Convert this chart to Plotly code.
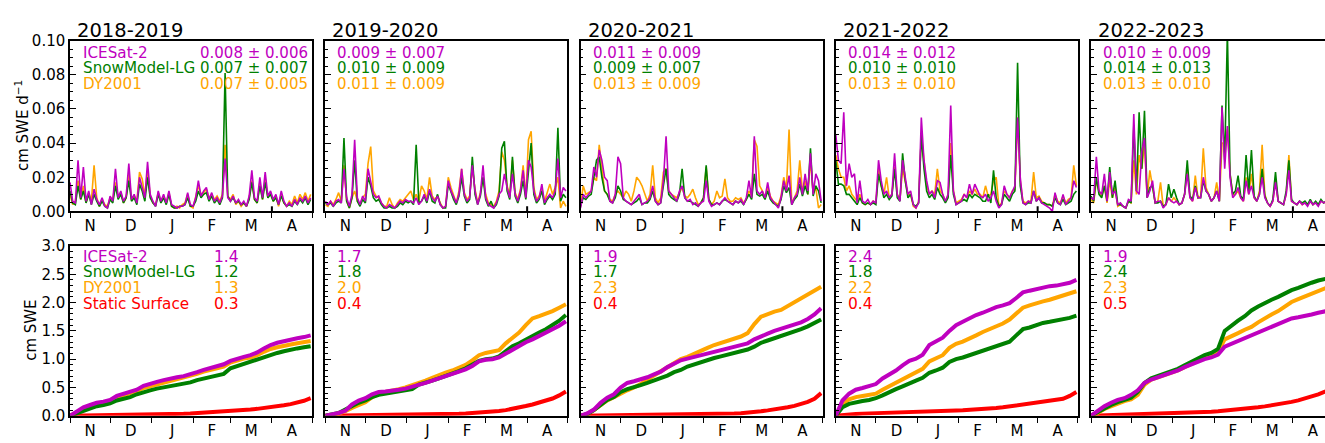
import numpy as np
import plotly.graph_objects as go

# ---------------------------------------------------------------------------
# Data: snow accumulation over sea ice, 1 Nov - 30 Apr of each season
# ---------------------------------------------------------------------------
SEASONS = ["2018-2019", "2019-2020", "2020-2021", "2021-2022", "2022-2023"]
MONTH_LABELS = ["N", "D", "J", "F", "M", "A"]
MONTH_STARTS = [0, 30, 61, 92, 120, 151, 181]      # days after 1 November
SEASON_DAYS = 181
APRIL_FIRST = 151

DAY_RATE = list(range(0, 181, 2))   # days after 1 Nov for the rate series
DAY_CUM = list(range(0, 181, 5))    # days after 1 Nov for the cumulative series

# Accumulation rate, cm SWE d-1
RATE_ICESAT2_2018 = [
    0.017, 0.006, 0.005, 0.030, 0.008, 0.026, 0.006, 0.012, 0.004, 0.013,
    0.007, 0.004, 0.008, 0.003, 0.002, 0.009, 0.006, 0.025, 0.008, 0.012,
    0.006, 0.009, 0.028, 0.007, 0.010, 0.005, 0.020, 0.014, 0.008, 0.029,
    0.010, 0.006, 0.003, 0.012, 0.006, 0.010, 0.005, 0.012, 0.004, 0.003,
    0.002, 0.003, 0.003, 0.004, 0.011, 0.004, 0.003, 0.008, 0.018, 0.009,
    0.012, 0.014, 0.007, 0.011, 0.006, 0.008, 0.005, 0.009, 0.031, 0.008,
    0.006, 0.009, 0.005, 0.007, 0.004, 0.006, 0.003, 0.009, 0.024, 0.008,
    0.006, 0.020, 0.008, 0.023, 0.009, 0.012, 0.007, 0.010, 0.004, 0.012,
    0.006, 0.003, 0.005, 0.003, 0.007, 0.004, 0.008, 0.006, 0.009, 0.005,
    0.008]
RATE_SNOWMODEL_2018 = [
    0.012, 0.005, 0.004, 0.015, 0.007, 0.012, 0.005, 0.010, 0.004, 0.010,
    0.006, 0.003, 0.006, 0.003, 0.002, 0.007, 0.005, 0.015, 0.007, 0.010,
    0.005, 0.008, 0.018, 0.006, 0.008, 0.004, 0.016, 0.012, 0.006, 0.020,
    0.008, 0.005, 0.003, 0.010, 0.005, 0.008, 0.004, 0.010, 0.003, 0.002,
    0.002, 0.003, 0.003, 0.004, 0.008, 0.003, 0.003, 0.006, 0.012, 0.008,
    0.010, 0.011, 0.006, 0.009, 0.005, 0.007, 0.004, 0.008, 0.081, 0.009,
    0.006, 0.008, 0.005, 0.006, 0.004, 0.005, 0.003, 0.007, 0.017, 0.007,
    0.005, 0.015, 0.007, 0.017, 0.008, 0.010, 0.006, 0.008, 0.004, 0.009,
    0.005, 0.003, 0.004, 0.003, 0.006, 0.004, 0.007, 0.005, 0.008, 0.004,
    0.007]
RATE_DY2001_2018 = [
    0.010, 0.004, 0.006, 0.018, 0.007, 0.015, 0.005, 0.011, 0.006, 0.027,
    0.008, 0.003, 0.007, 0.004, 0.003, 0.008, 0.007, 0.017, 0.009, 0.011,
    0.005, 0.008, 0.022, 0.007, 0.009, 0.006, 0.023, 0.019, 0.009, 0.024,
    0.009, 0.005, 0.004, 0.011, 0.006, 0.009, 0.005, 0.011, 0.003, 0.002,
    0.003, 0.002, 0.004, 0.005, 0.010, 0.003, 0.002, 0.009, 0.015, 0.010,
    0.011, 0.013, 0.008, 0.010, 0.007, 0.009, 0.006, 0.010, 0.039, 0.009,
    0.007, 0.010, 0.004, 0.006, 0.003, 0.005, 0.003, 0.008, 0.018, 0.007,
    0.005, 0.017, 0.007, 0.019, 0.008, 0.011, 0.006, 0.009, 0.003, 0.010,
    0.005, 0.003, 0.006, 0.004, 0.009, 0.005, 0.010, 0.007, 0.011, 0.006,
    0.010]

RATE_ICESAT2_2019 = [
    0.006, 0.004, 0.006, 0.003, 0.006, 0.007, 0.005, 0.025, 0.008, 0.003,
    0.010, 0.042, 0.008, 0.004, 0.009, 0.006, 0.025, 0.018, 0.010, 0.008,
    0.009, 0.005, 0.003, 0.002, 0.004, 0.003, 0.002, 0.004, 0.006, 0.005,
    0.007, 0.006, 0.006, 0.005, 0.008, 0.004, 0.006, 0.010, 0.006, 0.013,
    0.008, 0.006, 0.009, 0.004, 0.002, 0.003, 0.018, 0.012, 0.008, 0.005,
    0.010, 0.025, 0.010, 0.006, 0.008, 0.027, 0.012, 0.004, 0.010, 0.027,
    0.008, 0.004, 0.003, 0.002, 0.005, 0.010, 0.012, 0.022, 0.014, 0.008,
    0.022, 0.010, 0.006, 0.012, 0.024, 0.008, 0.030, 0.026, 0.012, 0.006,
    0.008, 0.016, 0.005, 0.008, 0.010, 0.008, 0.012, 0.031, 0.008, 0.014,
    0.012]
RATE_SNOWMODEL_2019 = [
    0.005, 0.004, 0.005, 0.003, 0.005, 0.006, 0.005, 0.043, 0.006, 0.002,
    0.008, 0.030, 0.006, 0.003, 0.007, 0.005, 0.020, 0.015, 0.008, 0.006,
    0.007, 0.004, 0.002, 0.002, 0.003, 0.002, 0.002, 0.003, 0.005, 0.004,
    0.006, 0.005, 0.006, 0.004, 0.039, 0.005, 0.006, 0.009, 0.005, 0.012,
    0.006, 0.005, 0.010, 0.004, 0.002, 0.002, 0.016, 0.011, 0.007, 0.004,
    0.009, 0.020, 0.009, 0.005, 0.007, 0.032, 0.010, 0.004, 0.009, 0.020,
    0.007, 0.003, 0.006, 0.002, 0.004, 0.009, 0.037, 0.041, 0.012, 0.007,
    0.032, 0.009, 0.005, 0.010, 0.018, 0.007, 0.025, 0.040, 0.010, 0.005,
    0.007, 0.012, 0.004, 0.007, 0.009, 0.007, 0.010, 0.049, 0.006, 0.010,
    0.008]
RATE_DY2001_2019 = [
    0.004, 0.003, 0.006, 0.004, 0.007, 0.011, 0.006, 0.027, 0.006, 0.002,
    0.008, 0.012, 0.006, 0.004, 0.008, 0.010, 0.028, 0.038, 0.012, 0.009,
    0.008, 0.005, 0.003, 0.003, 0.008, 0.004, 0.002, 0.005, 0.007, 0.006,
    0.008, 0.010, 0.012, 0.007, 0.010, 0.006, 0.015, 0.012, 0.007, 0.020,
    0.009, 0.007, 0.009, 0.005, 0.002, 0.003, 0.020, 0.014, 0.009, 0.005,
    0.012, 0.025, 0.011, 0.007, 0.009, 0.026, 0.013, 0.005, 0.011, 0.020,
    0.010, 0.005, 0.004, 0.003, 0.006, 0.012, 0.035, 0.030, 0.015, 0.009,
    0.030, 0.011, 0.007, 0.013, 0.027, 0.008, 0.042, 0.047, 0.014, 0.007,
    0.009, 0.013, 0.006, 0.011, 0.016, 0.010, 0.014, 0.020, 0.002, 0.006,
    0.003]

RATE_ICESAT2_2020 = [
    0.002, 0.010, 0.008, 0.010, 0.012, 0.026, 0.020, 0.036, 0.030, 0.020,
    0.018, 0.006, 0.005, 0.010, 0.032, 0.028, 0.008, 0.006, 0.005, 0.004,
    0.006, 0.008, 0.010, 0.004, 0.005, 0.006, 0.008, 0.015, 0.006, 0.004,
    0.005, 0.018, 0.044, 0.012, 0.010, 0.008, 0.006, 0.012, 0.015, 0.008,
    0.006, 0.007, 0.004, 0.005, 0.003, 0.005, 0.006, 0.018, 0.006, 0.003,
    0.004, 0.005, 0.004, 0.006, 0.008, 0.006, 0.005, 0.004, 0.006, 0.005,
    0.007, 0.004, 0.008, 0.018, 0.008, 0.044, 0.012, 0.010, 0.012, 0.008,
    0.017, 0.008, 0.006, 0.004, 0.002, 0.008, 0.018, 0.012, 0.021, 0.004,
    0.008, 0.010, 0.020, 0.010, 0.022, 0.012, 0.034, 0.010, 0.022, 0.018,
    0.006]
RATE_SNOWMODEL_2020 = [
    0.003, 0.008, 0.007, 0.009, 0.010, 0.020, 0.030, 0.032, 0.020, 0.012,
    0.010, 0.006, 0.005, 0.008, 0.015, 0.012, 0.007, 0.006, 0.005, 0.004,
    0.005, 0.006, 0.008, 0.004, 0.005, 0.005, 0.007, 0.012, 0.006, 0.004,
    0.005, 0.015, 0.025, 0.010, 0.008, 0.007, 0.006, 0.010, 0.025, 0.008,
    0.006, 0.006, 0.005, 0.004, 0.003, 0.005, 0.008, 0.027, 0.007, 0.004,
    0.004, 0.005, 0.004, 0.006, 0.007, 0.006, 0.005, 0.004, 0.006, 0.005,
    0.006, 0.004, 0.007, 0.010, 0.007, 0.022, 0.010, 0.009, 0.010, 0.007,
    0.012, 0.007, 0.005, 0.004, 0.003, 0.007, 0.015, 0.011, 0.014, 0.004,
    0.007, 0.009, 0.016, 0.009, 0.015, 0.010, 0.037, 0.009, 0.015, 0.012,
    0.005]
RATE_DY2001_2020 = [
    0.003, 0.015, 0.010, 0.011, 0.012, 0.020, 0.018, 0.039, 0.025, 0.012,
    0.010, 0.007, 0.006, 0.010, 0.012, 0.010, 0.008, 0.012, 0.010, 0.006,
    0.012, 0.020, 0.018, 0.015, 0.010, 0.006, 0.010, 0.027, 0.008, 0.005,
    0.008, 0.023, 0.025, 0.012, 0.010, 0.009, 0.008, 0.011, 0.014, 0.009,
    0.008, 0.010, 0.013, 0.008, 0.004, 0.005, 0.008, 0.026, 0.007, 0.004,
    0.006, 0.012, 0.008, 0.009, 0.019, 0.008, 0.006, 0.006, 0.008, 0.007,
    0.008, 0.005, 0.007, 0.012, 0.009, 0.042, 0.038, 0.015, 0.012, 0.008,
    0.014, 0.009, 0.006, 0.005, 0.004, 0.009, 0.020, 0.013, 0.048, 0.005,
    0.008, 0.012, 0.030, 0.012, 0.018, 0.010, 0.030, 0.011, 0.014, 0.002,
    0.004]

RATE_ICESAT2_2021 = [
    0.045, 0.030, 0.028, 0.058, 0.015, 0.028, 0.020, 0.022, 0.005, 0.018,
    0.006, 0.005, 0.007, 0.004, 0.006, 0.005, 0.030, 0.018, 0.010, 0.012,
    0.008, 0.010, 0.034, 0.010, 0.006, 0.030, 0.020, 0.010, 0.012, 0.004,
    0.002, 0.005, 0.055, 0.030, 0.018, 0.010, 0.012, 0.008, 0.018, 0.017,
    0.010, 0.006, 0.010, 0.062, 0.012, 0.004, 0.005, 0.006, 0.010, 0.008,
    0.016, 0.010, 0.016, 0.012, 0.009, 0.008, 0.010, 0.006, 0.008, 0.012,
    0.006, 0.002, 0.004, 0.015, 0.010, 0.008, 0.012, 0.015, 0.055, 0.020,
    0.005, 0.004, 0.006, 0.005, 0.012, 0.006, 0.008, 0.005, 0.004, 0.003,
    0.002, 0.000, 0.011, 0.005, 0.004, 0.010, 0.004, 0.006, 0.008, 0.018,
    0.014]
RATE_SNOWMODEL_2021 = [
    0.030, 0.016, 0.016, 0.015, 0.010, 0.010, 0.008, 0.006, 0.004, 0.008,
    0.005, 0.004, 0.005, 0.004, 0.005, 0.004, 0.022, 0.015, 0.008, 0.010,
    0.007, 0.009, 0.025, 0.008, 0.006, 0.034, 0.018, 0.008, 0.010, 0.004,
    0.003, 0.005, 0.045, 0.025, 0.012, 0.008, 0.010, 0.007, 0.014, 0.010,
    0.008, 0.005, 0.008, 0.033, 0.010, 0.004, 0.005, 0.006, 0.007, 0.006,
    0.010, 0.008, 0.010, 0.009, 0.008, 0.006, 0.006, 0.010, 0.005, 0.024,
    0.008, 0.003, 0.004, 0.010, 0.008, 0.006, 0.010, 0.012, 0.087, 0.015,
    0.005, 0.004, 0.005, 0.005, 0.012, 0.006, 0.008, 0.005, 0.005, 0.004,
    0.004, 0.003, 0.008, 0.005, 0.004, 0.007, 0.004, 0.005, 0.006, 0.010,
    0.012]
RATE_DY2001_2021 = [
    0.033, 0.025, 0.020, 0.020, 0.012, 0.015, 0.010, 0.008, 0.006, 0.010,
    0.005, 0.004, 0.005, 0.004, 0.006, 0.005, 0.025, 0.015, 0.010, 0.020,
    0.008, 0.010, 0.026, 0.010, 0.007, 0.025, 0.018, 0.010, 0.010, 0.003,
    0.002, 0.006, 0.045, 0.028, 0.015, 0.010, 0.012, 0.010, 0.025, 0.012,
    0.010, 0.006, 0.009, 0.040, 0.012, 0.005, 0.006, 0.007, 0.010, 0.008,
    0.012, 0.010, 0.013, 0.010, 0.010, 0.008, 0.015, 0.009, 0.010, 0.018,
    0.020, 0.003, 0.005, 0.012, 0.010, 0.008, 0.012, 0.013, 0.055, 0.018,
    0.006, 0.005, 0.006, 0.006, 0.023, 0.008, 0.009, 0.006, 0.005, 0.004,
    0.004, 0.003, 0.010, 0.006, 0.005, 0.009, 0.005, 0.007, 0.008, 0.027,
    0.015]

RATE_ICESAT2_2022 = [
    0.008, 0.007, 0.032, 0.012, 0.010, 0.022, 0.006, 0.023, 0.010, 0.012,
    0.004, 0.005, 0.003, 0.002, 0.007, 0.006, 0.057, 0.012, 0.010, 0.035,
    0.043, 0.008, 0.012, 0.018, 0.005, 0.006, 0.006, 0.002, 0.004, 0.008,
    0.006, 0.005, 0.006, 0.004, 0.005, 0.010, 0.022, 0.008, 0.006, 0.014,
    0.008, 0.008, 0.020, 0.012, 0.010, 0.006, 0.008, 0.012, 0.006, 0.061,
    0.025, 0.050, 0.020, 0.008, 0.010, 0.014, 0.008, 0.006, 0.018, 0.010,
    0.015, 0.008, 0.006, 0.010, 0.020, 0.008, 0.005, 0.003, 0.006, 0.017,
    0.006, 0.005, 0.004, 0.010, 0.024, 0.006, 0.005, 0.004, 0.006, 0.004,
    0.005, 0.003, 0.006, 0.004, 0.005, 0.003, 0.006, 0.005, 0.006, 0.005,
    0.006]
RATE_SNOWMODEL_2022 = [
    0.009, 0.006, 0.020, 0.010, 0.008, 0.015, 0.006, 0.026, 0.008, 0.018,
    0.004, 0.004, 0.003, 0.002, 0.006, 0.005, 0.050, 0.012, 0.058, 0.025,
    0.059, 0.008, 0.014, 0.015, 0.005, 0.005, 0.006, 0.003, 0.004, 0.016,
    0.008, 0.013, 0.008, 0.004, 0.005, 0.010, 0.030, 0.009, 0.007, 0.015,
    0.008, 0.008, 0.018, 0.012, 0.010, 0.006, 0.008, 0.012, 0.006, 0.062,
    0.030, 0.105, 0.022, 0.010, 0.012, 0.021, 0.009, 0.007, 0.033, 0.012,
    0.036, 0.009, 0.006, 0.010, 0.025, 0.009, 0.005, 0.003, 0.007, 0.023,
    0.006, 0.005, 0.004, 0.012, 0.030, 0.007, 0.005, 0.004, 0.006, 0.005,
    0.006, 0.004, 0.007, 0.004, 0.006, 0.004, 0.007, 0.005, 0.006, 0.005,
    0.006]
RATE_DY2001_2022 = [
    0.007, 0.005, 0.018, 0.012, 0.009, 0.015, 0.005, 0.018, 0.008, 0.014,
    0.003, 0.004, 0.003, 0.002, 0.006, 0.005, 0.030, 0.010, 0.033, 0.025,
    0.040, 0.008, 0.024, 0.015, 0.005, 0.006, 0.017, 0.003, 0.004, 0.008,
    0.006, 0.008, 0.006, 0.004, 0.005, 0.010, 0.025, 0.008, 0.006, 0.021,
    0.008, 0.009, 0.037, 0.014, 0.010, 0.006, 0.008, 0.017, 0.006, 0.040,
    0.040, 0.048, 0.022, 0.010, 0.010, 0.012, 0.008, 0.006, 0.020, 0.010,
    0.022, 0.008, 0.006, 0.012, 0.039, 0.010, 0.005, 0.003, 0.006, 0.018,
    0.006, 0.005, 0.004, 0.010, 0.033, 0.006, 0.005, 0.004, 0.006, 0.004,
    0.005, 0.004, 0.006, 0.004, 0.005, 0.004, 0.006, 0.005, 0.006, 0.004,
    0.005]

# Rate statistics (mean ± standard deviation), cm SWE d-1
ICESAT2_RATE_TEXT = ["0.008 ± 0.006", "0.009 ± 0.007", "0.011 ± 0.009",
                     "0.014 ± 0.012", "0.010 ± 0.009"]
SNOWMODEL_RATE_TEXT = ["0.007 ± 0.007", "0.010 ± 0.009", "0.009 ± 0.007",
                       "0.010 ± 0.010", "0.014 ± 0.013"]
DY2001_RATE_TEXT = ["0.007 ± 0.005", "0.011 ± 0.009", "0.013 ± 0.009",
                    "0.013 ± 0.010", "0.013 ± 0.010"]

# Cumulative accumulation, cm SWE
CUM_ICESAT2_2018 = [0.00, 0.08, 0.15, 0.19, 0.23, 0.25, 0.28, 0.35, 0.39, 0.43, 0.46, 0.53, 0.57,
                    0.60, 0.63, 0.66, 0.68, 0.70, 0.73, 0.77, 0.81, 0.84, 0.87, 0.91, 0.97, 1.01,
                    1.04, 1.07, 1.12, 1.19, 1.25, 1.29, 1.32, 1.35, 1.37, 1.39, 1.42]
CUM_SNOWMODEL_2018 = [0.00, 0.04, 0.09, 0.13, 0.17, 0.19, 0.22, 0.27, 0.30, 0.33, 0.38, 0.42, 0.45,
                      0.48, 0.50, 0.53, 0.55, 0.57, 0.59, 0.63, 0.66, 0.69, 0.71, 0.74, 0.84, 0.88,
                      0.92, 0.95, 0.99, 1.04, 1.08, 1.11, 1.14, 1.17, 1.19, 1.21, 1.23]
CUM_DY2001_2018 = [0.00, 0.06, 0.12, 0.16, 0.20, 0.23, 0.26, 0.32, 0.36, 0.40, 0.43, 0.49, 0.52,
                   0.56, 0.59, 0.62, 0.65, 0.67, 0.70, 0.74, 0.78, 0.81, 0.84, 0.87, 0.94, 0.98,
                   1.01, 1.03, 1.07, 1.13, 1.18, 1.21, 1.24, 1.26, 1.28, 1.30, 1.32]
CUM_STATIC_2018 = [0.000, 0.001, 0.002, 0.003, 0.004, 0.005, 0.006, 0.008, 0.010, 0.011, 0.013,
                   0.015, 0.017, 0.019, 0.022, 0.025, 0.030, 0.034, 0.039, 0.045, 0.052, 0.060,
                   0.068, 0.076, 0.085, 0.094, 0.102, 0.110, 0.122, 0.135, 0.150, 0.168, 0.185,
                   0.205, 0.230, 0.265, 0.310]

CUM_ICESAT2_2019 = [0.00, 0.02, 0.05, 0.09, 0.20, 0.27, 0.31, 0.38, 0.42, 0.43, 0.44, 0.46, 0.48,
                    0.51, 0.54, 0.58, 0.62, 0.66, 0.70, 0.74, 0.78, 0.82, 0.88, 0.96, 0.99, 1.00,
                    1.03, 1.10, 1.18, 1.23, 1.30, 1.35, 1.41, 1.46, 1.52, 1.59, 1.67]
CUM_SNOWMODEL_2019 = [0.00, 0.02, 0.05, 0.11, 0.18, 0.23, 0.27, 0.33, 0.37, 0.39, 0.41, 0.44, 0.45,
                      0.47, 0.55, 0.58, 0.62, 0.66, 0.70, 0.75, 0.79, 0.84, 0.90, 0.97, 1.00, 1.01,
                      1.05, 1.15, 1.23, 1.28, 1.35, 1.40, 1.47, 1.53, 1.60, 1.68, 1.78]
CUM_DY2001_2019 = [0.00, 0.01, 0.04, 0.08, 0.14, 0.20, 0.24, 0.33, 0.39, 0.42, 0.44, 0.47, 0.50,
                   0.54, 0.57, 0.62, 0.67, 0.72, 0.76, 0.80, 0.85, 0.90, 0.98, 1.07, 1.11, 1.13,
                   1.16, 1.28, 1.38, 1.47, 1.60, 1.72, 1.76, 1.80, 1.85, 1.91, 1.97]
CUM_STATIC_2019 = [0.000, 0.001, 0.002, 0.003, 0.004, 0.005, 0.006, 0.007, 0.008, 0.009, 0.010,
                   0.011, 0.012, 0.013, 0.015, 0.017, 0.019, 0.022, 0.026, 0.030, 0.035, 0.041,
                   0.047, 0.054, 0.062, 0.072, 0.085, 0.100, 0.120, 0.145, 0.172, 0.200, 0.230,
                   0.265, 0.305, 0.360, 0.430]

CUM_ICESAT2_2020 = [0.00, 0.04, 0.11, 0.23, 0.32, 0.38, 0.50, 0.58, 0.61, 0.64, 0.68, 0.73, 0.78,
                    0.86, 0.92, 0.98, 1.01, 1.04, 1.07, 1.10, 1.14, 1.17, 1.19, 1.22, 1.25, 1.28,
                    1.35, 1.41, 1.45, 1.50, 1.54, 1.57, 1.61, 1.65, 1.71, 1.79, 1.90]
CUM_SNOWMODEL_2020 = [0.00, 0.03, 0.10, 0.20, 0.28, 0.33, 0.42, 0.47, 0.50, 0.54, 0.58, 0.62, 0.66,
                      0.71, 0.77, 0.81, 0.87, 0.91, 0.95, 0.99, 1.02, 1.05, 1.08, 1.11, 1.14, 1.17,
                      1.22, 1.29, 1.33, 1.37, 1.41, 1.44, 1.48, 1.53, 1.58, 1.64, 1.70]
CUM_DY2001_2020 = [0.00, 0.03, 0.10, 0.19, 0.27, 0.33, 0.40, 0.45, 0.50, 0.56, 0.64, 0.71, 0.77,
                   0.85, 0.92, 1.00, 1.04, 1.10, 1.15, 1.20, 1.25, 1.29, 1.32, 1.36, 1.40, 1.46,
                   1.62, 1.75, 1.80, 1.84, 1.87, 1.94, 2.00, 2.07, 2.13, 2.20, 2.28]
CUM_STATIC_2020 = [0.000, 0.001, 0.002, 0.003, 0.004, 0.005, 0.006, 0.007, 0.008, 0.009, 0.010,
                   0.012, 0.014, 0.016, 0.018, 0.020, 0.022, 0.024, 0.026, 0.028, 0.030, 0.033,
                   0.036, 0.040, 0.045, 0.052, 0.065, 0.080, 0.095, 0.110, 0.130, 0.150, 0.175,
                   0.205, 0.245, 0.300, 0.400]

CUM_ICESAT2_2021 = [0.00, 0.27, 0.39, 0.46, 0.49, 0.52, 0.56, 0.66, 0.72, 0.80, 0.89, 0.97, 1.01,
                    1.08, 1.25, 1.31, 1.38, 1.50, 1.60, 1.66, 1.72, 1.78, 1.82, 1.87, 1.92, 1.95,
                    1.99, 2.08, 2.18, 2.21, 2.24, 2.27, 2.29, 2.30, 2.32, 2.35, 2.40]
CUM_SNOWMODEL_2021 = [0.00, 0.15, 0.21, 0.24, 0.26, 0.28, 0.31, 0.36, 0.42, 0.47, 0.52, 0.58, 0.62,
                      0.67, 0.76, 0.80, 0.85, 0.95, 1.00, 1.03, 1.07, 1.11, 1.15, 1.20, 1.24, 1.27,
                      1.31, 1.42, 1.53, 1.56, 1.60, 1.64, 1.66, 1.68, 1.70, 1.73, 1.77]
CUM_DY2001_2021 = [0.00, 0.21, 0.29, 0.33, 0.35, 0.37, 0.39, 0.46, 0.52, 0.59, 0.66, 0.72, 0.77,
                   0.83, 0.96, 1.01, 1.07, 1.20, 1.27, 1.31, 1.36, 1.42, 1.48, 1.53, 1.58, 1.63,
                   1.70, 1.80, 1.91, 1.95, 1.99, 2.02, 2.05, 2.09, 2.12, 2.16, 2.20]
CUM_STATIC_2021 = [0.000, 0.015, 0.025, 0.032, 0.038, 0.043, 0.048, 0.052, 0.056, 0.060, 0.064,
                   0.068, 0.072, 0.076, 0.080, 0.083, 0.086, 0.089, 0.093, 0.097, 0.102, 0.108,
                   0.115, 0.125, 0.137, 0.150, 0.165, 0.180, 0.195, 0.212, 0.230, 0.245, 0.258,
                   0.272, 0.300, 0.350, 0.420]

CUM_ICESAT2_2022 = [0.00, 0.09, 0.17, 0.23, 0.28, 0.31, 0.37, 0.45, 0.58, 0.64, 0.68, 0.72, 0.76,
                    0.80, 0.86, 0.91, 0.96, 1.00, 1.03, 1.08, 1.22, 1.27, 1.32, 1.38, 1.43, 1.47,
                    1.52, 1.57, 1.62, 1.67, 1.72, 1.74, 1.76, 1.79, 1.82, 1.84, 1.87]
CUM_SNOWMODEL_2022 = [0.00, 0.07, 0.14, 0.19, 0.24, 0.28, 0.32, 0.42, 0.58, 0.66, 0.70, 0.74, 0.78,
                      0.83, 0.89, 0.95, 1.02, 1.07, 1.11, 1.18, 1.50, 1.60, 1.68, 1.76, 1.86, 1.93,
                      2.00, 2.05, 2.10, 2.16, 2.22, 2.26, 2.31, 2.35, 2.39, 2.42, 2.44]
CUM_DY2001_2022 = [0.00, 0.05, 0.12, 0.17, 0.22, 0.26, 0.29, 0.37, 0.55, 0.64, 0.68, 0.72, 0.76,
                   0.80, 0.86, 0.92, 0.98, 1.03, 1.07, 1.13, 1.35, 1.40, 1.46, 1.52, 1.57, 1.65,
                   1.73, 1.79, 1.85, 1.93, 2.01, 2.06, 2.11, 2.16, 2.21, 2.26, 2.30]
CUM_STATIC_2022 = [0.000, 0.003, 0.006, 0.010, 0.014, 0.018, 0.021, 0.024, 0.027, 0.030, 0.033,
                   0.036, 0.040, 0.044, 0.048, 0.053, 0.058, 0.064, 0.071, 0.079, 0.088, 0.098,
                   0.110, 0.122, 0.136, 0.150, 0.166, 0.183, 0.202, 0.222, 0.245, 0.272, 0.302,
                   0.337, 0.378, 0.425, 0.475]

RATE_ICESAT2 = [RATE_ICESAT2_2018, RATE_ICESAT2_2019, RATE_ICESAT2_2020, RATE_ICESAT2_2021, RATE_ICESAT2_2022]
RATE_SNOWMODEL = [RATE_SNOWMODEL_2018, RATE_SNOWMODEL_2019, RATE_SNOWMODEL_2020, RATE_SNOWMODEL_2021, RATE_SNOWMODEL_2022]
RATE_DY2001 = [RATE_DY2001_2018, RATE_DY2001_2019, RATE_DY2001_2020, RATE_DY2001_2021, RATE_DY2001_2022]
CUM_ICESAT2 = [CUM_ICESAT2_2018, CUM_ICESAT2_2019, CUM_ICESAT2_2020, CUM_ICESAT2_2021, CUM_ICESAT2_2022]
CUM_SNOWMODEL = [CUM_SNOWMODEL_2018, CUM_SNOWMODEL_2019, CUM_SNOWMODEL_2020, CUM_SNOWMODEL_2021, CUM_SNOWMODEL_2022]
CUM_DY2001 = [CUM_DY2001_2018, CUM_DY2001_2019, CUM_DY2001_2020, CUM_DY2001_2021, CUM_DY2001_2022]
CUM_STATIC = [CUM_STATIC_2018, CUM_STATIC_2019, CUM_STATIC_2020, CUM_STATIC_2021, CUM_STATIC_2022]

# ---------------------------------------------------------------------------
# Styling
# ---------------------------------------------------------------------------
C_ICESAT2 = "#bf00bf"
C_SNOWMODEL = "#008000"
C_DY2001 = "#ffa500"
C_STATIC = "#ff0000"
FONT = "DejaVu Sans"

W, H = 1325, 443
PANEL_W = 242.0
PANEL_LEFT = [70 + 255.25 * i for i in range(5)]
ROW_BOX = [(33, 211), (247, 424)]          # top / bottom pixel rows of each panel row

month_mid = [(a + b) / 2 for a, b in zip(MONTH_STARTS[:-1], MONTH_STARTS[1:])]


def fx(px):
    return px / W


def fy(py):
    return 1 - py / H


fig = go.Figure()
annotations = []
shapes = []
layout_axes = {}

for row in range(2):
    top, bottom = ROW_BOX[row]
    for col in range(5):
        n = row * 5 + col + 1
        xname = "x" if n == 1 else f"x{n}"
        yname = "y" if n == 1 else f"y{n}"
        left = PANEL_LEFT[col]
        right = min(left + PANEL_W, W)
        x_end = SEASON_DAYS * (right - left) / PANEL_W

        if row == 0:
            series = [(RATE_DY2001[col], C_DY2001),
                      (RATE_SNOWMODEL[col], C_SNOWMODEL),
                      (RATE_ICESAT2[col], C_ICESAT2)]
            for vals, color in series:
                fig.add_trace(go.Scatter(
                    x=DAY_RATE, y=vals, mode="lines",
                    line=dict(color=color, width=1.6),
                    xaxis=xname, yaxis=yname, showlegend=False, hoverinfo="skip"))
            # short inward tick marking 1 April on the rate panels
            shapes.append(dict(
                type="line", xref=xname, yref=f"{yname} domain",
                x0=APRIL_FIRST, x1=APRIL_FIRST, y0=0, y1=0.03,
                line=dict(color="black", width=2)))
        else:
            series = [(CUM_STATIC[col], C_STATIC),
                      (CUM_DY2001[col], C_DY2001),
                      (CUM_SNOWMODEL[col], C_SNOWMODEL),
                      (CUM_ICESAT2[col], C_ICESAT2)]
            for vals, color in series:
                fig.add_trace(go.Scatter(
                    x=DAY_CUM, y=vals, mode="lines",
                    line=dict(color=color, width=4),
                    xaxis=xname, yaxis=yname, showlegend=False, hoverinfo="skip"))

        layout_axes["xaxis" if n == 1 else f"xaxis{n}"] = dict(
            domain=[fx(left), fx(right)],
            range=[0, x_end],
            anchor=yname,
            showline=True, mirror=True, linecolor="black", linewidth=1.5,
            showgrid=False, zeroline=False,
            tickmode="array", tickvals=month_mid, ticktext=MONTH_LABELS,
            ticks="", tickfont=dict(family=FONT, size=15, color="black"),
            minor=dict(tickmode="array", tickvals=MONTH_STARTS, ticks="outside",
                       ticklen=5, tickwidth=1.2, tickcolor="black", showgrid=False),
        )
        if row == 0:
            yr = [0, 0.10]
            ytick = dict(tickmode="array", tickvals=[0, 0.02, 0.04, 0.06, 0.08, 0.10],
                         tickformat=".2f")
            yminor = 0.005
        else:
            yr = [0, 3.0]
            ytick = dict(tickmode="array", tickvals=[0, 0.5, 1.0, 1.5, 2.0, 2.5, 3.0],
                         tickformat=".1f")
            yminor = 0.1
        layout_axes["yaxis" if n == 1 else f"yaxis{n}"] = dict(
            domain=[fy(bottom), fy(top)],
            range=yr,
            anchor=xname,
            showline=True, mirror=(col < 4), linecolor="black", linewidth=1.5,
            showgrid=False, zeroline=False,
            ticks="inside", ticklen=6, tickwidth=1.2, tickcolor="black",
            showticklabels=(col == 0),
            tickfont=dict(family=FONT, size=15, color="black"),
            minor=dict(dtick=yminor, tick0=0, ticks="inside", ticklen=3,
                       tickwidth=1, tickcolor="black", showgrid=False),
            **ytick,
        )

        # Season title above the top row
        if row == 0:
            annotations.append(dict(
                text=SEASONS[col], xref="paper", yref="paper",
                x=fx(left + 5), y=fy(22), xanchor="left", yanchor="middle",
                showarrow=False, font=dict(family=FONT, size=19.5, color="black")))

        # In-panel statistics
        if row == 0:
            ys = [46, 62, 78]
            items = [("ICESat-2", ICESAT2_RATE_TEXT[col], C_ICESAT2),
                     ("SnowModel-LG", SNOWMODEL_RATE_TEXT[col], C_SNOWMODEL),
                     ("DY2001", DY2001_RATE_TEXT[col], C_DY2001)]
        else:
            ys = [258, 274.5, 291, 307]
            items = [("ICESat-2", f"{CUM_ICESAT2[col][-1]:.1f}", C_ICESAT2),
                     ("SnowModel-LG", f"{CUM_SNOWMODEL[col][-1]:.1f}", C_SNOWMODEL),
                     ("DY2001", f"{CUM_DY2001[col][-1]:.1f}", C_DY2001),
                     ("Static Surface", f"{CUM_STATIC[col][-1]:.1f}", C_STATIC)]
        for yy, (name, value, color) in zip(ys, items):
            name_font = dict(family=FONT, size=15.2, color=color)
            value_font = dict(family=FONT, size=15 if row == 0 else 15.5, color=color)
            if col == 0:
                annotations.append(dict(
                    text=name, xref="paper", yref="paper", x=fx(left + 11), y=fy(yy),
                    xanchor="left", yanchor="middle", showarrow=False, font=name_font))
                if row == 0:
                    annotations.append(dict(
                        text=value, xref="paper", yref="paper", x=fx(right - 2.5), y=fy(yy),
                        xanchor="right", yanchor="middle", showarrow=False, font=value_font))
                else:
                    annotations.append(dict(
                        text=value, xref="paper", yref="paper", x=fx(left + 142), y=fy(yy),
                        xanchor="left", yanchor="middle", showarrow=False, font=value_font))
            else:
                annotations.append(dict(
                    text=value, xref="paper", yref="paper", x=fx(left + 10), y=fy(yy),
                    xanchor="left", yanchor="middle", showarrow=False, font=value_font))

# y-axis titles
annotations.append(dict(
    text="cm SWE d<sup>−1</sup>", xref="paper", yref="paper",
    x=fx(22), y=fy((ROW_BOX[0][0] + ROW_BOX[0][1]) / 2),
    xanchor="center", yanchor="middle", textangle=-90, showarrow=False,
    font=dict(family=FONT, size=15, color="black")))
annotations.append(dict(
    text="cm SWE", xref="paper", yref="paper",
    x=fx(31), y=fy((ROW_BOX[1][0] + ROW_BOX[1][1]) / 2),
    xanchor="center", yanchor="middle", textangle=-90, showarrow=False,
    font=dict(family=FONT, size=15, color="black")))

fig.update_layout(
    width=W, height=H, autosize=False,
    margin=dict(l=0, r=0, t=0, b=0),
    paper_bgcolor="white", plot_bgcolor="white",
    font=dict(family=FONT, color="black"),
    annotations=annotations,
    shapes=shapes,
    **layout_axes,
)

fig.write_html("out.html")
